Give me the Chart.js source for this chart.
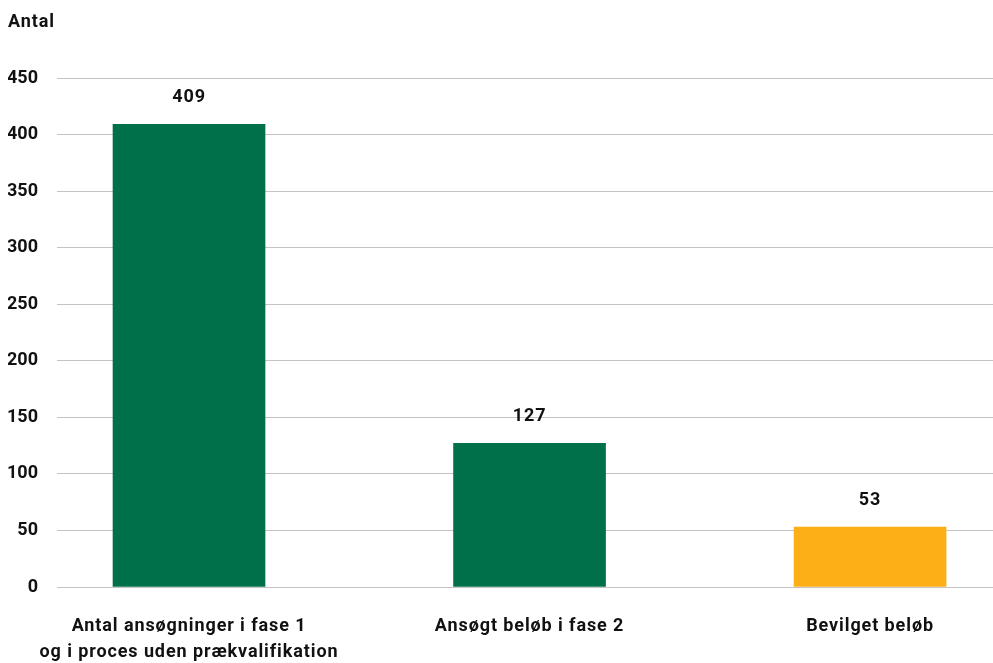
<!DOCTYPE html>
<html>
<head>
<meta charset="utf-8">
<script src="https://cdn.jsdelivr.net/npm/chart.js@4/dist/chart.umd.min.js"></script>
<style>
  html, body { margin: 0; padding: 0; background: #fff; }
  #wrap { width: 993px; height: 663px; }
</style>
</head>
<body>
<div id="wrap"><canvas id="myChart"></canvas></div>
<script>
const categories = [
  ['Antal ansøgninger i fase 1', 'og i proces uden prækvalifikation'],
  ['Ansøgt beløb i fase 2'],
  ['Bevilget beløb']
]
const values = [409, 127, 53]
const barColors = ['#00704a', '#00704a', '#fcaf17']
const yTicks = [0, 50, 100, 150, 200, 250, 300, 350, 400, 450]
const yTitle = 'Antal'

const FONT = 'Roboto, "Liberation Sans", sans-serif'

// "Antal" over the y axis + the value labels above each bar.
// the reference font runs a bit wider, so the letters get a little spacing;
// it is left on for the x axis labels, which are drawn after the bars (z: 1)
const labelsPlugin = {
  id: 'labels',
  beforeDraw(chart) { chart.ctx.letterSpacing = '0px' },
  afterDatasetsDraw(chart) {
    const ctx = chart.ctx
    ctx.letterSpacing = '0.9px'
    ctx.save()
    ctx.fillStyle = '#111'
    ctx.font = 'bold 18px ' + FONT
    ctx.textBaseline = 'middle'
    ctx.textAlign = 'left'
    ctx.fillText(yTitle, 8, 22)
    ctx.textAlign = 'center'
    chart.getDatasetMeta(0).data.forEach((bar, i) => {
      ctx.fillText(values[i], bar.x, bar.y - 27)
    })
    ctx.restore()
  },
  afterDraw(chart) { chart.ctx.letterSpacing = '0px' }
}

const ctx = document.getElementById('myChart')
new Chart(ctx, {
  type: 'bar',
  data: {
    datasets: [{
      data: values.map((v, i) => ({ x: i, y: v })),
      backgroundColor: barColors,
      barThickness: 152,
      borderWidth: 0
    }]
  },
  options: {
    responsive: true,
    maintainAspectRatio: false,
    animation: false,
    layout: { padding: { top: 78, left: 8, right: 0, bottom: 0 } },
    plugins: {
      legend: { display: false },
      tooltip: { enabled: false }
    },
    scales: {
      x: {
        type: 'linear',
        z: 1,
        offset: false,
        min: -0.3877,
        max: 2.361,
        grid: { display: false, drawTicks: false, offset: false },
        border: { display: false },
        afterFit: s => { s.height = 76 },
        ticks: {
          z: 1,
          stepSize: 1,
          includeBounds: false,
          autoSkip: false,
          maxRotation: 0,
          padding: 26,
          color: '#111',
          font: { family: FONT, size: 18, weight: 'bold', lineHeight: '26px' },
          callback: v => Number.isInteger(v) && categories[v] ? categories[v] : ''
        }
      },
      y: {
        min: 0,
        max: 450,
        afterFit: s => { s.width = 49 },
        afterBuildTicks: s => { s.ticks = yTicks.map(v => ({ value: v })) },
        grid: { color: '#c4c4c4', lineWidth: 1, drawTicks: false },
        border: { display: false },
        ticks: {
          padding: 19,
          color: '#111',
          font: { family: FONT, size: 18, weight: 'bold' }
        }
      }
    }
  },
  plugins: [labelsPlugin]
})
</script>
</body>
</html>
